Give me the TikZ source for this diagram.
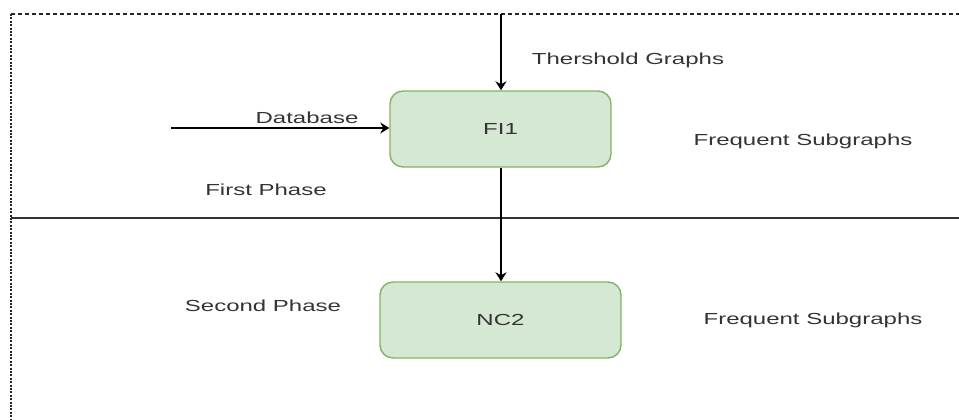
\documentclass[tikz,border=0pt]{standalone}
\usepackage{fontspec}
\setmainfont{Liberation Sans}
\usetikzlibrary{arrows.meta}
\definecolor{boxfill}{HTML}{D5E8D4}
\definecolor{boxline}{HTML}{82B366}
\definecolor{txt}{HTML}{333333}
\newcommand{\wide}[1]{\scalebox{1.5}[1]{#1}}
\tikzset{
  procbox/.style={draw=boxline, fill=boxfill, line width=1.4pt, rounded corners=13pt,
    inner sep=0pt, font=\fontsize{16}{19}\selectfont, text=txt},
  lbl/.style={font=\fontsize{16}{19}\selectfont, text=txt, inner sep=0pt},
  flow/.style={draw=black, line width=1.5pt, -{Stealth[length=9pt,width=11pt]}},
}
\begin{document}
\begin{tikzpicture}[x=1pt, y=-1pt]
  \useasboundingbox (0,0) rectangle (959,420);
  % frame of the first phase
  \draw[black!85, line width=1.2pt, dash pattern=on 4pt off 3pt] (11,14) -- (959,14);
  \draw[black!85, line width=1.8pt, dash pattern=on 2pt off 1.4pt] (11,14) -- (11,420);
  % border between the phases
  \draw[txt, line width=2.4pt] (11,218) -- (959,218);

  % process boxes
  \node[procbox, minimum width=221pt, minimum height=76pt] (fi1) at (500.5,129) {\wide{FI1}};
  \node[procbox, minimum width=241pt, minimum height=76pt] (nc2) at (500.5,320) {\wide{NC2}};

  % loose ends of the inputs
  \coordinate (thin) at (501,14);
  \coordinate (dbin) at (171,128);

  \draw[flow] (thin) -- (fi1.north -| thin);
  \draw[flow] (dbin) -- (fi1.west |- dbin);
  \draw[flow] (fi1.south -| thin) -- (nc2.north -| thin);

  % labels
  \node[lbl] (thr) at (628,60) {\wide{Thershold Graphs}};
  \node[lbl] (db) at (307,118) {\wide{Database}};
  \node[lbl] (fs1) at (803,141) {\wide{Frequent Subgraphs}};
  \node[lbl] (p1) at (266,190) {\wide{First Phase}};
  \node[lbl] (p2) at (263,306) {\wide{Second Phase}};
  \node[lbl] (fs2) at (813,320) {\wide{Frequent Subgraphs}};
\end{tikzpicture}
\end{document}
